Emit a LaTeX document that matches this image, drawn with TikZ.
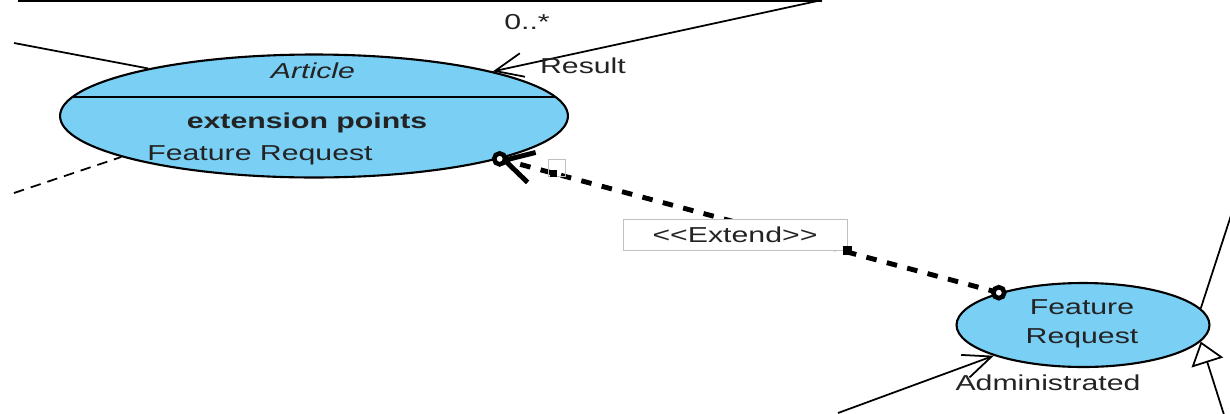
\documentclass[tikz,border=0pt]{standalone}
\usepackage{fontspec}
\setmainfont{Liberation Sans}[FakeStretch=1.4, Ligatures=TeXOff]
\usetikzlibrary{arrows.meta, shapes.geometric, positioning}
\definecolor{ucfill}{RGB}{122,207,245}
\definecolor{uctext}{RGB}{35,35,35}
\definecolor{hdlgray}{RGB}{192,192,192}
\tikzset{
  usecase/.style={ellipse, draw=black, fill=ucfill, line width=1.2pt, inner sep=0pt},
  lbl/.style={font=\fontsize{12.3}{16.5}\selectfont, text=uctext, inner sep=0pt, align=center},
  assoc/.style={line width=1pt, -{Straight Barb[length=0.56cm, width=0.48cm, line width=1pt]}},
  plainline/.style={line width=1pt},
  genline/.style={line width=1pt, -{Triangle[open, length=0.44cm, width=0.66cm, line width=1pt]}},
  extline/.style={line width=2.8pt, dash pattern=on 6pt off 6pt,
    -{Straight Barb[length=0.56cm, width=0.62cm, line width=2.8pt]}},
  dotend/.style={circle, draw=black, fill=white, line width=2.6pt, minimum size=0.22cm, inner sep=0pt},
  handle/.style={rectangle, fill=black, minimum size=0.18cm, inner sep=0pt}
}

\begin{document}
\begin{tikzpicture}[x=0.02cm, y=-0.02cm]

  \useasboundingbox (0,0) rectangle (1230,413);

  % frame edge at the top
  \draw[line width=1.3pt] (18,1) -- (822,1);

  % use cases
  \node[usecase, minimum width=10.16cm, minimum height=2.46cm] (art) at (314,116) {};
  \node[usecase, minimum width=5.06cm, minimum height=1.68cm] (fr) at (1083,325) {};
  \draw[line width=0.9pt] (73,97) -- (555,97);
  \node[lbl, font=\fontsize{12.3}{16.5}\selectfont\itshape] (arttitle) at (313,71) {Article};
  \node[lbl, font=\fontsize{12.3}{16.5}\selectfont\bfseries] (artext) at (307,123) {extension points};
  \node[lbl] (artpoint) at (260,155) {Feature Request};
  \node[lbl] (frname) at (1082,324) {Feature\\Request};

  % loose ends
  \coordinate (ltop) at (14,43);
  \coordinate (ldash) at (14,193);
  \coordinate (rtop) at (822,0);
  \coordinate (adm) at (838,413);
  \coordinate (rup) at (1236,200);
  \coordinate (rgen) at (1232,440);

  \draw[plainline] (ltop) -- (art.164);
  \draw[plainline, dash pattern=on 6pt off 4pt] (ldash) -- (art.192);
  \draw[assoc] (rtop) -- (art.14);
  \draw[assoc] (adm) -- (fr.199);
  \draw[plainline] (rup) -- (fr.8);
  \draw[genline] (rgen) -- (fr.-8);

  % extend
  \draw[extline] (fr.159) -- (art.-13);
  \node[dotend] (frdot) at (fr.159) {};
  \node[dotend] (artdot) at (art.-13) {};
  \node[rectangle, draw=hdlgray, fill=white, minimum width=4.48cm, minimum height=0.62cm, lbl] (extlbl) at (735,235) {<<Extend>>};
  \node[handle] (hdl) at (extlbl.south east) {};
  \node[rectangle, draw=hdlgray, minimum size=0.34cm, inner sep=0pt] (hdl2) at (557,168) {};
  \node[handle, minimum size=0.14cm] (hdl3) at (553,173) {};

  % association labels
  \node[lbl] (mult) at (527,22) {0..*};
  \node[lbl] (res) at (583,66) {Result};
  \node[lbl] (admin) at (1048,383) {Administrated};

\end{tikzpicture}
\end{document}
